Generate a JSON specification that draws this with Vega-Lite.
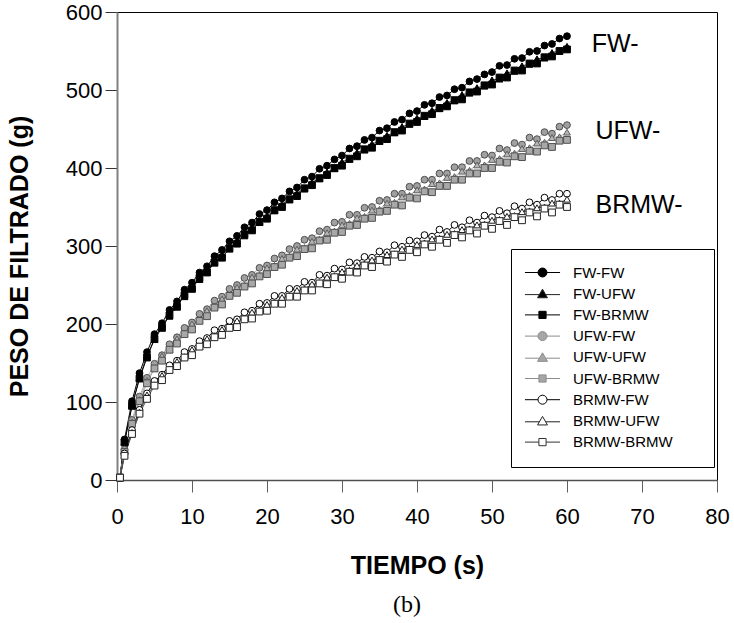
{
"$schema":"https://vega.github.io/schema/vega-lite/v6.json",
"width":600,"height":468,
"autosize":{"type":"none"},
"padding":{"left":117,"top":12,"right":17,"bottom":143},
"background":"white",
"config":{"view":{"stroke":"#000000","strokeWidth":1},"font":"Liberation Sans"},
"title":{"text":"(b)","orient":"bottom","anchor":"middle","frame":"group","font":"Liberation Serif","fontSize":24,"fontWeight":"normal","color":"#000000","offset":15,"dx":-10},
"datasets":{"pts":[
{"s":"FW-FW","t":0.4,"w":3},{"s":"FW-FW","t":1,"w":52},{"s":"FW-FW","t":2,"w":101},{"s":"FW-FW","t":3,"w":137},{"s":"FW-FW","t":4,"w":164},{"s":"FW-FW","t":5,"w":187},{"s":"FW-FW","t":6,"w":201},{"s":"FW-FW","t":7,"w":218},{"s":"FW-FW","t":8,"w":229},{"s":"FW-FW","t":9,"w":244},{"s":"FW-FW","t":10,"w":253},{"s":"FW-FW","t":11,"w":266},{"s":"FW-FW","t":12,"w":274},{"s":"FW-FW","t":13,"w":287},{"s":"FW-FW","t":14,"w":295},{"s":"FW-FW","t":15,"w":306},{"s":"FW-FW","t":16,"w":313},{"s":"FW-FW","t":17,"w":324},{"s":"FW-FW","t":18,"w":330},{"s":"FW-FW","t":19,"w":341},{"s":"FW-FW","t":20,"w":346},{"s":"FW-FW","t":21,"w":356},{"s":"FW-FW","t":22,"w":361},{"s":"FW-FW","t":23,"w":370},{"s":"FW-FW","t":24,"w":375},{"s":"FW-FW","t":25,"w":385},{"s":"FW-FW","t":26,"w":389},{"s":"FW-FW","t":27,"w":399},{"s":"FW-FW","t":28,"w":403},{"s":"FW-FW","t":29,"w":411},{"s":"FW-FW","t":30,"w":416},{"s":"FW-FW","t":31,"w":425},{"s":"FW-FW","t":32,"w":428},{"s":"FW-FW","t":33,"w":436},{"s":"FW-FW","t":34,"w":439},{"s":"FW-FW","t":35,"w":448},{"s":"FW-FW","t":36,"w":451},{"s":"FW-FW","t":37,"w":459},{"s":"FW-FW","t":38,"w":462},{"s":"FW-FW","t":39,"w":470},{"s":"FW-FW","t":40,"w":473},{"s":"FW-FW","t":41,"w":481},{"s":"FW-FW","t":42,"w":483},{"s":"FW-FW","t":43,"w":491},{"s":"FW-FW","t":44,"w":493},{"s":"FW-FW","t":45,"w":501},{"s":"FW-FW","t":46,"w":503},{"s":"FW-FW","t":47,"w":511},{"s":"FW-FW","t":48,"w":514},{"s":"FW-FW","t":49,"w":520},{"s":"FW-FW","t":50,"w":523},{"s":"FW-FW","t":51,"w":531},{"s":"FW-FW","t":52,"w":532},{"s":"FW-FW","t":53,"w":540},{"s":"FW-FW","t":54,"w":541},{"s":"FW-FW","t":55,"w":549},{"s":"FW-FW","t":56,"w":550},{"s":"FW-FW","t":57,"w":557},{"s":"FW-FW","t":58,"w":559},{"s":"FW-FW","t":59,"w":566},{"s":"FW-FW","t":60,"w":569},
{"s":"FW-UFW","t":0.4,"w":3},{"s":"FW-UFW","t":1,"w":49},{"s":"FW-UFW","t":2,"w":96},{"s":"FW-UFW","t":3,"w":131},{"s":"FW-UFW","t":4,"w":160},{"s":"FW-UFW","t":5,"w":180},{"s":"FW-UFW","t":6,"w":199},{"s":"FW-UFW","t":7,"w":210},{"s":"FW-UFW","t":8,"w":226},{"s":"FW-UFW","t":9,"w":235},{"s":"FW-UFW","t":10,"w":249},{"s":"FW-UFW","t":11,"w":257},{"s":"FW-UFW","t":12,"w":270},{"s":"FW-UFW","t":13,"w":278},{"s":"FW-UFW","t":14,"w":289},{"s":"FW-UFW","t":15,"w":296},{"s":"FW-UFW","t":16,"w":307},{"s":"FW-UFW","t":17,"w":313},{"s":"FW-UFW","t":18,"w":324},{"s":"FW-UFW","t":19,"w":330},{"s":"FW-UFW","t":20,"w":339},{"s":"FW-UFW","t":21,"w":345},{"s":"FW-UFW","t":22,"w":354},{"s":"FW-UFW","t":23,"w":359},{"s":"FW-UFW","t":24,"w":368},{"s":"FW-UFW","t":25,"w":373},{"s":"FW-UFW","t":26,"w":382},{"s":"FW-UFW","t":27,"w":386},{"s":"FW-UFW","t":28,"w":395},{"s":"FW-UFW","t":29,"w":399},{"s":"FW-UFW","t":30,"w":408},{"s":"FW-UFW","t":31,"w":411},{"s":"FW-UFW","t":32,"w":420},{"s":"FW-UFW","t":33,"w":423},{"s":"FW-UFW","t":34,"w":431},{"s":"FW-UFW","t":35,"w":434},{"s":"FW-UFW","t":36,"w":442},{"s":"FW-UFW","t":37,"w":445},{"s":"FW-UFW","t":38,"w":453},{"s":"FW-UFW","t":39,"w":456},{"s":"FW-UFW","t":40,"w":464},{"s":"FW-UFW","t":41,"w":466},{"s":"FW-UFW","t":42,"w":474},{"s":"FW-UFW","t":43,"w":476},{"s":"FW-UFW","t":44,"w":484},{"s":"FW-UFW","t":45,"w":486},{"s":"FW-UFW","t":46,"w":494},{"s":"FW-UFW","t":47,"w":496},{"s":"FW-UFW","t":48,"w":503},{"s":"FW-UFW","t":49,"w":505},{"s":"FW-UFW","t":50,"w":513},{"s":"FW-UFW","t":51,"w":514},{"s":"FW-UFW","t":52,"w":522},{"s":"FW-UFW","t":53,"w":524},{"s":"FW-UFW","t":54,"w":531},{"s":"FW-UFW","t":55,"w":533},{"s":"FW-UFW","t":56,"w":540},{"s":"FW-UFW","t":57,"w":541},{"s":"FW-UFW","t":58,"w":548},{"s":"FW-UFW","t":59,"w":550},{"s":"FW-UFW","t":60,"w":556},
{"s":"FW-BRMW","t":0.4,"w":3},{"s":"FW-BRMW","t":1,"w":48},{"s":"FW-BRMW","t":2,"w":95},{"s":"FW-BRMW","t":3,"w":130},{"s":"FW-BRMW","t":4,"w":157},{"s":"FW-BRMW","t":5,"w":181},{"s":"FW-BRMW","t":6,"w":195},{"s":"FW-BRMW","t":7,"w":211},{"s":"FW-BRMW","t":8,"w":222},{"s":"FW-BRMW","t":9,"w":237},{"s":"FW-BRMW","t":10,"w":245},{"s":"FW-BRMW","t":11,"w":259},{"s":"FW-BRMW","t":12,"w":266},{"s":"FW-BRMW","t":13,"w":279},{"s":"FW-BRMW","t":14,"w":285},{"s":"FW-BRMW","t":15,"w":297},{"s":"FW-BRMW","t":16,"w":303},{"s":"FW-BRMW","t":17,"w":315},{"s":"FW-BRMW","t":18,"w":320},{"s":"FW-BRMW","t":19,"w":331},{"s":"FW-BRMW","t":20,"w":335},{"s":"FW-BRMW","t":21,"w":346},{"s":"FW-BRMW","t":22,"w":350},{"s":"FW-BRMW","t":23,"w":360},{"s":"FW-BRMW","t":24,"w":364},{"s":"FW-BRMW","t":25,"w":374},{"s":"FW-BRMW","t":26,"w":378},{"s":"FW-BRMW","t":27,"w":387},{"s":"FW-BRMW","t":28,"w":391},{"s":"FW-BRMW","t":29,"w":400},{"s":"FW-BRMW","t":30,"w":403},{"s":"FW-BRMW","t":31,"w":412},{"s":"FW-BRMW","t":32,"w":415},{"s":"FW-BRMW","t":33,"w":424},{"s":"FW-BRMW","t":34,"w":426},{"s":"FW-BRMW","t":35,"w":435},{"s":"FW-BRMW","t":36,"w":437},{"s":"FW-BRMW","t":37,"w":446},{"s":"FW-BRMW","t":38,"w":448},{"s":"FW-BRMW","t":39,"w":457},{"s":"FW-BRMW","t":40,"w":459},{"s":"FW-BRMW","t":41,"w":467},{"s":"FW-BRMW","t":42,"w":469},{"s":"FW-BRMW","t":43,"w":477},{"s":"FW-BRMW","t":44,"w":479},{"s":"FW-BRMW","t":45,"w":487},{"s":"FW-BRMW","t":46,"w":488},{"s":"FW-BRMW","t":47,"w":497},{"s":"FW-BRMW","t":48,"w":498},{"s":"FW-BRMW","t":49,"w":506},{"s":"FW-BRMW","t":50,"w":507},{"s":"FW-BRMW","t":51,"w":516},{"s":"FW-BRMW","t":52,"w":516},{"s":"FW-BRMW","t":53,"w":525},{"s":"FW-BRMW","t":54,"w":525},{"s":"FW-BRMW","t":55,"w":534},{"s":"FW-BRMW","t":56,"w":534},{"s":"FW-BRMW","t":57,"w":542},{"s":"FW-BRMW","t":58,"w":543},{"s":"FW-BRMW","t":59,"w":550},{"s":"FW-BRMW","t":60,"w":552},
{"s":"UFW-FW","t":0.4,"w":3},{"s":"UFW-FW","t":1,"w":39},{"s":"UFW-FW","t":2,"w":77},{"s":"UFW-FW","t":3,"w":107},{"s":"UFW-FW","t":4,"w":131},{"s":"UFW-FW","t":5,"w":149},{"s":"UFW-FW","t":6,"w":160},{"s":"UFW-FW","t":7,"w":174},{"s":"UFW-FW","t":8,"w":183},{"s":"UFW-FW","t":9,"w":195},{"s":"UFW-FW","t":10,"w":202},{"s":"UFW-FW","t":11,"w":213},{"s":"UFW-FW","t":12,"w":219},{"s":"UFW-FW","t":13,"w":230},{"s":"UFW-FW","t":14,"w":235},{"s":"UFW-FW","t":15,"w":245},{"s":"UFW-FW","t":16,"w":250},{"s":"UFW-FW","t":17,"w":259},{"s":"UFW-FW","t":18,"w":263},{"s":"UFW-FW","t":19,"w":272},{"s":"UFW-FW","t":20,"w":275},{"s":"UFW-FW","t":21,"w":284},{"s":"UFW-FW","t":22,"w":288},{"s":"UFW-FW","t":23,"w":296},{"s":"UFW-FW","t":24,"w":300},{"s":"UFW-FW","t":25,"w":308},{"s":"UFW-FW","t":26,"w":310},{"s":"UFW-FW","t":27,"w":319},{"s":"UFW-FW","t":28,"w":321},{"s":"UFW-FW","t":29,"w":330},{"s":"UFW-FW","t":30,"w":331},{"s":"UFW-FW","t":31,"w":340},{"s":"UFW-FW","t":32,"w":340},{"s":"UFW-FW","t":33,"w":349},{"s":"UFW-FW","t":34,"w":350},{"s":"UFW-FW","t":35,"w":358},{"s":"UFW-FW","t":36,"w":359},{"s":"UFW-FW","t":37,"w":367},{"s":"UFW-FW","t":38,"w":367},{"s":"UFW-FW","t":39,"w":376},{"s":"UFW-FW","t":40,"w":377},{"s":"UFW-FW","t":41,"w":385},{"s":"UFW-FW","t":42,"w":385},{"s":"UFW-FW","t":43,"w":393},{"s":"UFW-FW","t":44,"w":393},{"s":"UFW-FW","t":45,"w":401},{"s":"UFW-FW","t":46,"w":401},{"s":"UFW-FW","t":47,"w":409},{"s":"UFW-FW","t":48,"w":409},{"s":"UFW-FW","t":49,"w":417},{"s":"UFW-FW","t":50,"w":416},{"s":"UFW-FW","t":51,"w":425},{"s":"UFW-FW","t":52,"w":423},{"s":"UFW-FW","t":53,"w":432},{"s":"UFW-FW","t":54,"w":430},{"s":"UFW-FW","t":55,"w":439},{"s":"UFW-FW","t":56,"w":437},{"s":"UFW-FW","t":57,"w":446},{"s":"UFW-FW","t":58,"w":444},{"s":"UFW-FW","t":59,"w":453},{"s":"UFW-FW","t":60,"w":455},
{"s":"UFW-UFW","t":0.4,"w":3},{"s":"UFW-UFW","t":1,"w":37},{"s":"UFW-UFW","t":2,"w":74},{"s":"UFW-UFW","t":3,"w":103},{"s":"UFW-UFW","t":4,"w":128},{"s":"UFW-UFW","t":5,"w":143},{"s":"UFW-UFW","t":6,"w":159},{"s":"UFW-UFW","t":7,"w":167},{"s":"UFW-UFW","t":8,"w":181},{"s":"UFW-UFW","t":9,"w":188},{"s":"UFW-UFW","t":10,"w":200},{"s":"UFW-UFW","t":11,"w":205},{"s":"UFW-UFW","t":12,"w":217},{"s":"UFW-UFW","t":13,"w":222},{"s":"UFW-UFW","t":14,"w":232},{"s":"UFW-UFW","t":15,"w":237},{"s":"UFW-UFW","t":16,"w":247},{"s":"UFW-UFW","t":17,"w":250},{"s":"UFW-UFW","t":18,"w":260},{"s":"UFW-UFW","t":19,"w":263},{"s":"UFW-UFW","t":20,"w":272},{"s":"UFW-UFW","t":21,"w":275},{"s":"UFW-UFW","t":22,"w":284},{"s":"UFW-UFW","t":23,"w":287},{"s":"UFW-UFW","t":24,"w":296},{"s":"UFW-UFW","t":25,"w":298},{"s":"UFW-UFW","t":26,"w":306},{"s":"UFW-UFW","t":27,"w":309},{"s":"UFW-UFW","t":28,"w":317},{"s":"UFW-UFW","t":29,"w":319},{"s":"UFW-UFW","t":30,"w":327},{"s":"UFW-UFW","t":31,"w":329},{"s":"UFW-UFW","t":32,"w":336},{"s":"UFW-UFW","t":33,"w":338},{"s":"UFW-UFW","t":34,"w":346},{"s":"UFW-UFW","t":35,"w":347},{"s":"UFW-UFW","t":36,"w":355},{"s":"UFW-UFW","t":37,"w":356},{"s":"UFW-UFW","t":38,"w":363},{"s":"UFW-UFW","t":39,"w":365},{"s":"UFW-UFW","t":40,"w":372},{"s":"UFW-UFW","t":41,"w":373},{"s":"UFW-UFW","t":42,"w":380},{"s":"UFW-UFW","t":43,"w":381},{"s":"UFW-UFW","t":44,"w":388},{"s":"UFW-UFW","t":45,"w":389},{"s":"UFW-UFW","t":46,"w":396},{"s":"UFW-UFW","t":47,"w":397},{"s":"UFW-UFW","t":48,"w":404},{"s":"UFW-UFW","t":49,"w":404},{"s":"UFW-UFW","t":50,"w":411},{"s":"UFW-UFW","t":51,"w":412},{"s":"UFW-UFW","t":52,"w":418},{"s":"UFW-UFW","t":53,"w":419},{"s":"UFW-UFW","t":54,"w":425},{"s":"UFW-UFW","t":55,"w":426},{"s":"UFW-UFW","t":56,"w":432},{"s":"UFW-UFW","t":57,"w":433},{"s":"UFW-UFW","t":58,"w":439},{"s":"UFW-UFW","t":59,"w":440},{"s":"UFW-UFW","t":60,"w":446},
{"s":"UFW-BRMW","t":0.4,"w":3},{"s":"UFW-BRMW","t":1,"w":36},{"s":"UFW-BRMW","t":2,"w":72},{"s":"UFW-BRMW","t":3,"w":101},{"s":"UFW-BRMW","t":4,"w":124},{"s":"UFW-BRMW","t":5,"w":143},{"s":"UFW-BRMW","t":6,"w":153},{"s":"UFW-BRMW","t":7,"w":167},{"s":"UFW-BRMW","t":8,"w":175},{"s":"UFW-BRMW","t":9,"w":187},{"s":"UFW-BRMW","t":10,"w":193},{"s":"UFW-BRMW","t":11,"w":204},{"s":"UFW-BRMW","t":12,"w":210},{"s":"UFW-BRMW","t":13,"w":221},{"s":"UFW-BRMW","t":14,"w":225},{"s":"UFW-BRMW","t":15,"w":236},{"s":"UFW-BRMW","t":16,"w":240},{"s":"UFW-BRMW","t":17,"w":248},{"s":"UFW-BRMW","t":18,"w":252},{"s":"UFW-BRMW","t":19,"w":261},{"s":"UFW-BRMW","t":20,"w":264},{"s":"UFW-BRMW","t":21,"w":273},{"s":"UFW-BRMW","t":22,"w":276},{"s":"UFW-BRMW","t":23,"w":285},{"s":"UFW-BRMW","t":24,"w":287},{"s":"UFW-BRMW","t":25,"w":296},{"s":"UFW-BRMW","t":26,"w":297},{"s":"UFW-BRMW","t":27,"w":307},{"s":"UFW-BRMW","t":28,"w":308},{"s":"UFW-BRMW","t":29,"w":317},{"s":"UFW-BRMW","t":30,"w":318},{"s":"UFW-BRMW","t":31,"w":326},{"s":"UFW-BRMW","t":32,"w":327},{"s":"UFW-BRMW","t":33,"w":335},{"s":"UFW-BRMW","t":34,"w":336},{"s":"UFW-BRMW","t":35,"w":344},{"s":"UFW-BRMW","t":36,"w":345},{"s":"UFW-BRMW","t":37,"w":353},{"s":"UFW-BRMW","t":38,"w":352},{"s":"UFW-BRMW","t":39,"w":362},{"s":"UFW-BRMW","t":40,"w":361},{"s":"UFW-BRMW","t":41,"w":370},{"s":"UFW-BRMW","t":42,"w":369},{"s":"UFW-BRMW","t":43,"w":377},{"s":"UFW-BRMW","t":44,"w":377},{"s":"UFW-BRMW","t":45,"w":385},{"s":"UFW-BRMW","t":46,"w":385},{"s":"UFW-BRMW","t":47,"w":393},{"s":"UFW-BRMW","t":48,"w":393},{"s":"UFW-BRMW","t":49,"w":400},{"s":"UFW-BRMW","t":50,"w":400},{"s":"UFW-BRMW","t":51,"w":408},{"s":"UFW-BRMW","t":52,"w":407},{"s":"UFW-BRMW","t":53,"w":415},{"s":"UFW-BRMW","t":54,"w":414},{"s":"UFW-BRMW","t":55,"w":422},{"s":"UFW-BRMW","t":56,"w":421},{"s":"UFW-BRMW","t":57,"w":429},{"s":"UFW-BRMW","t":58,"w":427},{"s":"UFW-BRMW","t":59,"w":435},{"s":"UFW-BRMW","t":60,"w":436},
{"s":"BRMW-FW","t":0.4,"w":3},{"s":"BRMW-FW","t":1,"w":34},{"s":"BRMW-FW","t":2,"w":64},{"s":"BRMW-FW","t":3,"w":90},{"s":"BRMW-FW","t":4,"w":111},{"s":"BRMW-FW","t":5,"w":127},{"s":"BRMW-FW","t":6,"w":135},{"s":"BRMW-FW","t":7,"w":147},{"s":"BRMW-FW","t":8,"w":153},{"s":"BRMW-FW","t":9,"w":164},{"s":"BRMW-FW","t":10,"w":168},{"s":"BRMW-FW","t":11,"w":178},{"s":"BRMW-FW","t":12,"w":182},{"s":"BRMW-FW","t":13,"w":192},{"s":"BRMW-FW","t":14,"w":194},{"s":"BRMW-FW","t":15,"w":204},{"s":"BRMW-FW","t":16,"w":206},{"s":"BRMW-FW","t":17,"w":215},{"s":"BRMW-FW","t":18,"w":217},{"s":"BRMW-FW","t":19,"w":226},{"s":"BRMW-FW","t":20,"w":227},{"s":"BRMW-FW","t":21,"w":236},{"s":"BRMW-FW","t":22,"w":236},{"s":"BRMW-FW","t":23,"w":245},{"s":"BRMW-FW","t":24,"w":245},{"s":"BRMW-FW","t":25,"w":254},{"s":"BRMW-FW","t":26,"w":253},{"s":"BRMW-FW","t":27,"w":263},{"s":"BRMW-FW","t":28,"w":262},{"s":"BRMW-FW","t":29,"w":271},{"s":"BRMW-FW","t":30,"w":270},{"s":"BRMW-FW","t":31,"w":279},{"s":"BRMW-FW","t":32,"w":278},{"s":"BRMW-FW","t":33,"w":286},{"s":"BRMW-FW","t":34,"w":285},{"s":"BRMW-FW","t":35,"w":293},{"s":"BRMW-FW","t":36,"w":292},{"s":"BRMW-FW","t":37,"w":301},{"s":"BRMW-FW","t":38,"w":299},{"s":"BRMW-FW","t":39,"w":307},{"s":"BRMW-FW","t":40,"w":306},{"s":"BRMW-FW","t":41,"w":314},{"s":"BRMW-FW","t":42,"w":312},{"s":"BRMW-FW","t":43,"w":321},{"s":"BRMW-FW","t":44,"w":318},{"s":"BRMW-FW","t":45,"w":327},{"s":"BRMW-FW","t":46,"w":324},{"s":"BRMW-FW","t":47,"w":333},{"s":"BRMW-FW","t":48,"w":330},{"s":"BRMW-FW","t":49,"w":339},{"s":"BRMW-FW","t":50,"w":337},{"s":"BRMW-FW","t":51,"w":345},{"s":"BRMW-FW","t":52,"w":342},{"s":"BRMW-FW","t":53,"w":351},{"s":"BRMW-FW","t":54,"w":348},{"s":"BRMW-FW","t":55,"w":356},{"s":"BRMW-FW","t":56,"w":353},{"s":"BRMW-FW","t":57,"w":362},{"s":"BRMW-FW","t":58,"w":359},{"s":"BRMW-FW","t":59,"w":367},{"s":"BRMW-FW","t":60,"w":367},
{"s":"BRMW-UFW","t":0.4,"w":3},{"s":"BRMW-UFW","t":1,"w":32},{"s":"BRMW-UFW","t":2,"w":61},{"s":"BRMW-UFW","t":3,"w":87},{"s":"BRMW-UFW","t":4,"w":109},{"s":"BRMW-UFW","t":5,"w":122},{"s":"BRMW-UFW","t":6,"w":134},{"s":"BRMW-UFW","t":7,"w":141},{"s":"BRMW-UFW","t":8,"w":152},{"s":"BRMW-UFW","t":9,"w":158},{"s":"BRMW-UFW","t":10,"w":167},{"s":"BRMW-UFW","t":11,"w":171},{"s":"BRMW-UFW","t":12,"w":181},{"s":"BRMW-UFW","t":13,"w":185},{"s":"BRMW-UFW","t":14,"w":193},{"s":"BRMW-UFW","t":15,"w":196},{"s":"BRMW-UFW","t":16,"w":204},{"s":"BRMW-UFW","t":17,"w":207},{"s":"BRMW-UFW","t":18,"w":215},{"s":"BRMW-UFW","t":19,"w":218},{"s":"BRMW-UFW","t":20,"w":225},{"s":"BRMW-UFW","t":21,"w":227},{"s":"BRMW-UFW","t":22,"w":234},{"s":"BRMW-UFW","t":23,"w":236},{"s":"BRMW-UFW","t":24,"w":243},{"s":"BRMW-UFW","t":25,"w":245},{"s":"BRMW-UFW","t":26,"w":251},{"s":"BRMW-UFW","t":27,"w":253},{"s":"BRMW-UFW","t":28,"w":260},{"s":"BRMW-UFW","t":29,"w":261},{"s":"BRMW-UFW","t":30,"w":267},{"s":"BRMW-UFW","t":31,"w":269},{"s":"BRMW-UFW","t":32,"w":275},{"s":"BRMW-UFW","t":33,"w":277},{"s":"BRMW-UFW","t":34,"w":282},{"s":"BRMW-UFW","t":35,"w":284},{"s":"BRMW-UFW","t":36,"w":289},{"s":"BRMW-UFW","t":37,"w":290},{"s":"BRMW-UFW","t":38,"w":296},{"s":"BRMW-UFW","t":39,"w":297},{"s":"BRMW-UFW","t":40,"w":302},{"s":"BRMW-UFW","t":41,"w":304},{"s":"BRMW-UFW","t":42,"w":309},{"s":"BRMW-UFW","t":43,"w":310},{"s":"BRMW-UFW","t":44,"w":315},{"s":"BRMW-UFW","t":45,"w":316},{"s":"BRMW-UFW","t":46,"w":321},{"s":"BRMW-UFW","t":47,"w":322},{"s":"BRMW-UFW","t":48,"w":327},{"s":"BRMW-UFW","t":49,"w":328},{"s":"BRMW-UFW","t":50,"w":333},{"s":"BRMW-UFW","t":51,"w":334},{"s":"BRMW-UFW","t":52,"w":338},{"s":"BRMW-UFW","t":53,"w":339},{"s":"BRMW-UFW","t":54,"w":344},{"s":"BRMW-UFW","t":55,"w":345},{"s":"BRMW-UFW","t":56,"w":349},{"s":"BRMW-UFW","t":57,"w":350},{"s":"BRMW-UFW","t":58,"w":355},{"s":"BRMW-UFW","t":59,"w":355},{"s":"BRMW-UFW","t":60,"w":360},
{"s":"BRMW-BRMW","t":0.4,"w":3},{"s":"BRMW-BRMW","t":1,"w":31},{"s":"BRMW-BRMW","t":2,"w":59},{"s":"BRMW-BRMW","t":3,"w":85},{"s":"BRMW-BRMW","t":4,"w":104},{"s":"BRMW-BRMW","t":5,"w":121},{"s":"BRMW-BRMW","t":6,"w":128},{"s":"BRMW-BRMW","t":7,"w":141},{"s":"BRMW-BRMW","t":8,"w":146},{"s":"BRMW-BRMW","t":9,"w":157},{"s":"BRMW-BRMW","t":10,"w":160},{"s":"BRMW-BRMW","t":11,"w":171},{"s":"BRMW-BRMW","t":12,"w":174},{"s":"BRMW-BRMW","t":13,"w":183},{"s":"BRMW-BRMW","t":14,"w":186},{"s":"BRMW-BRMW","t":15,"w":195},{"s":"BRMW-BRMW","t":16,"w":196},{"s":"BRMW-BRMW","t":17,"w":206},{"s":"BRMW-BRMW","t":18,"w":207},{"s":"BRMW-BRMW","t":19,"w":216},{"s":"BRMW-BRMW","t":20,"w":217},{"s":"BRMW-BRMW","t":21,"w":226},{"s":"BRMW-BRMW","t":22,"w":226},{"s":"BRMW-BRMW","t":23,"w":235},{"s":"BRMW-BRMW","t":24,"w":235},{"s":"BRMW-BRMW","t":25,"w":243},{"s":"BRMW-BRMW","t":26,"w":243},{"s":"BRMW-BRMW","t":27,"w":252},{"s":"BRMW-BRMW","t":28,"w":251},{"s":"BRMW-BRMW","t":29,"w":260},{"s":"BRMW-BRMW","t":30,"w":258},{"s":"BRMW-BRMW","t":31,"w":267},{"s":"BRMW-BRMW","t":32,"w":266},{"s":"BRMW-BRMW","t":33,"w":275},{"s":"BRMW-BRMW","t":34,"w":273},{"s":"BRMW-BRMW","t":35,"w":282},{"s":"BRMW-BRMW","t":36,"w":280},{"s":"BRMW-BRMW","t":37,"w":289},{"s":"BRMW-BRMW","t":38,"w":286},{"s":"BRMW-BRMW","t":39,"w":295},{"s":"BRMW-BRMW","t":40,"w":292},{"s":"BRMW-BRMW","t":41,"w":302},{"s":"BRMW-BRMW","t":42,"w":299},{"s":"BRMW-BRMW","t":43,"w":308},{"s":"BRMW-BRMW","t":44,"w":304},{"s":"BRMW-BRMW","t":45,"w":314},{"s":"BRMW-BRMW","t":46,"w":311},{"s":"BRMW-BRMW","t":47,"w":320},{"s":"BRMW-BRMW","t":48,"w":316},{"s":"BRMW-BRMW","t":49,"w":326},{"s":"BRMW-BRMW","t":50,"w":322},{"s":"BRMW-BRMW","t":51,"w":332},{"s":"BRMW-BRMW","t":52,"w":327},{"s":"BRMW-BRMW","t":53,"w":337},{"s":"BRMW-BRMW","t":54,"w":333},{"s":"BRMW-BRMW","t":55,"w":343},{"s":"BRMW-BRMW","t":56,"w":338},{"s":"BRMW-BRMW","t":57,"w":348},{"s":"BRMW-BRMW","t":58,"w":343},{"s":"BRMW-BRMW","t":59,"w":353},{"s":"BRMW-BRMW","t":60,"w":350}
]},
"encoding":{
"x":{"field":"t","type":"quantitative","scale":{"domain":[0,80],"nice":false},
"axis":{"values":[0,10,20,30,40,50,60,70,80],"title":"TIEMPO (s)","titleFont":"Liberation Sans","titleFontSize":25,"titleFontWeight":"bold","titleColor":"#000000","titleY":93,"titleBaseline":"alphabetic","labelFont":"Liberation Sans","labelFontSize":22,"labelColor":"#000000","labelPadding":14,"labelFlush":false,"tickSize":12,"tickColor":"#606060","domainColor":"#505050","domainWidth":1.5,"grid":false}},
"y":{"field":"w","type":"quantitative","scale":{"domain":[0,600],"nice":false},
"axis":{"values":[0,100,200,300,400,500,600],"title":"PESO DE FILTRADO (g)","titleFont":"Liberation Sans","titleFontSize":25,"titleFontWeight":"bold","titleColor":"#000000","titleX":-90,"titleY":244,"titleBaseline":"alphabetic","labelFont":"Liberation Sans","labelFontSize":22,"labelColor":"#000000","labelPadding":3,"tickSize":12,"tickColor":"#333333","domainColor":"#808080","domainWidth":2,"grid":false}}
},
"layer":[
{"data":{"name":"pts"},"mark":{"type":"line","strokeWidth":1},
 "encoding":{"detail":{"field":"s"},"stroke":{"field":"s","type":"nominal","legend":null,
  "scale":{"domain":["FW-FW","FW-UFW","FW-BRMW","UFW-FW","UFW-UFW","UFW-BRMW","BRMW-FW","BRMW-UFW","BRMW-BRMW"],
  "range":["#000000","#333333","#000000","#b0b0b0","#b0b0b0","#b0b0b0","#000000","#444444","#555555"]}}}},
{"data":{"name":"pts"},"mark":{"type":"point","filled":true,"size":46,"strokeWidth":1,"opacity":1},
 "encoding":{
  "shape":{"field":"s","type":"nominal","legend":null,"scale":{"domain":["FW-FW","FW-UFW","FW-BRMW","UFW-FW","UFW-UFW","UFW-BRMW","BRMW-FW","BRMW-UFW","BRMW-BRMW"],"range":["circle","triangle-up","square","circle","triangle-up","square","circle","triangle-up","square"]}},
  "fill":{"field":"s","type":"nominal","legend":null,"scale":{"domain":["FW-FW","FW-UFW","FW-BRMW","UFW-FW","UFW-UFW","UFW-BRMW","BRMW-FW","BRMW-UFW","BRMW-BRMW"],"range":["#000000","#000000","#000000","#a0a0a0","#b4b4b4","#a8a8a8","#ffffff","#ffffff","#ffffff"]}},
  "stroke":{"field":"s","type":"nominal","legend":null,"scale":{"domain":["FW-FW","FW-UFW","FW-BRMW","UFW-FW","UFW-UFW","UFW-BRMW","BRMW-FW","BRMW-UFW","BRMW-BRMW"],"range":["#000000","#000000","#000000","#505050","#606060","#505050","#000000","#1a1a1a","#222222"]}}}},
{"data":{"name":"pts"},"transform":[{"filter":"datum.t < 0"}],"mark":{"type":"point","filled":true,"size":81,"strokeWidth":1,"opacity":1},
 "encoding":{
  "shape":{"field":"s","type":"nominal","title":".",
   "legend":{"orient":"none","legendX":394,"legendY":237,"title":".","titleOrient":"right","titleColor":"#ffffff","titleFontSize":15,"titlePadding":20,"strokeColor":"#000000","fillColor":"#ffffff","padding":16,"symbolSize":81,"symbolStrokeWidth":1,"symbolOffset":8,"labelOffset":23,"labelFont":"Liberation Sans","labelFontSize":15,"labelColor":"#000000","rowPadding":5.2},
   "scale":{"domain":["FW-FW","FW-UFW","FW-BRMW","UFW-FW","UFW-UFW","UFW-BRMW","BRMW-FW","BRMW-UFW","BRMW-BRMW"],"range":[
    "M-3.9,0H-1M1,0H3.9M-1,0A1,1,0,1,1,1,0A1,1,0,1,1,-1,0Z",
    "M-3.9,0.2H-0.75M0.75,0.2H3.9M0,-1L1.1,0.9H-1.1Z",
    "M-3.9,0H-0.8M0.8,0H3.9M-0.8,-0.8H0.8V0.8H-0.8Z",
    "M-3.9,0H-1M1,0H3.9M-1,0A1,1,0,1,1,1,0A1,1,0,1,1,-1,0Z",
    "M-3.9,0.2H-0.75M0.75,0.2H3.9M0,-1L1.1,0.9H-1.1Z",
    "M-3.9,0H-0.8M0.8,0H3.9M-0.8,-0.8H0.8V0.8H-0.8Z",
    "M-3.9,0H-1M1,0H3.9M-1,0A1,1,0,1,1,1,0A1,1,0,1,1,-1,0Z",
    "M-3.9,0.2H-0.75M0.75,0.2H3.9M0,-1L1.1,0.9H-1.1Z",
    "M-3.9,0H-0.8M0.8,0H3.9M-0.8,-0.8H0.8V0.8H-0.8Z"]}},
  "fill":{"field":"s","type":"nominal","title":".",
   "legend":{"orient":"none","legendX":394,"legendY":237,"title":".","titleOrient":"right","titleColor":"#ffffff","titleFontSize":15,"titlePadding":20,"strokeColor":"#000000","fillColor":"#ffffff","padding":16,"symbolSize":81,"symbolStrokeWidth":1,"symbolOffset":8,"labelOffset":23,"labelFont":"Liberation Sans","labelFontSize":15,"labelColor":"#000000","rowPadding":5.2},
   "scale":{"domain":["FW-FW","FW-UFW","FW-BRMW","UFW-FW","UFW-UFW","UFW-BRMW","BRMW-FW","BRMW-UFW","BRMW-BRMW"],"range":["#000000","#000000","#000000","#a6a6a6","#a6a6a6","#a6a6a6","#ffffff","#ffffff","#ffffff"]}},
  "stroke":{"field":"s","type":"nominal","title":".",
   "legend":{"orient":"none","legendX":394,"legendY":237,"title":".","titleOrient":"right","titleColor":"#ffffff","titleFontSize":15,"titlePadding":20,"strokeColor":"#000000","fillColor":"#ffffff","padding":16,"symbolSize":81,"symbolStrokeWidth":1,"symbolOffset":8,"labelOffset":23,"labelFont":"Liberation Sans","labelFontSize":15,"labelColor":"#000000","rowPadding":5.2},
   "scale":{"domain":["FW-FW","FW-UFW","FW-BRMW","UFW-FW","UFW-UFW","UFW-BRMW","BRMW-FW","BRMW-UFW","BRMW-BRMW"],"range":["#000000","#222222","#000000","#8c8c8c","#8c8c8c","#8c8c8c","#000000","#222222","#333333"]}}}},
{"data":{"values":[{"t":63.3,"w":559,"lab":"FW-"},{"t":63.8,"w":447,"lab":"UFW-"},{"t":63.8,"w":353,"lab":"BRMW-"}]},
 "mark":{"type":"text","align":"left","baseline":"middle","font":"Liberation Sans","fontSize":25,"color":"#000000"},
 "encoding":{"text":{"field":"lab"}}}
],
"resolve":{"scale":{"shape":"independent","fill":"independent","stroke":"independent"}}
}
